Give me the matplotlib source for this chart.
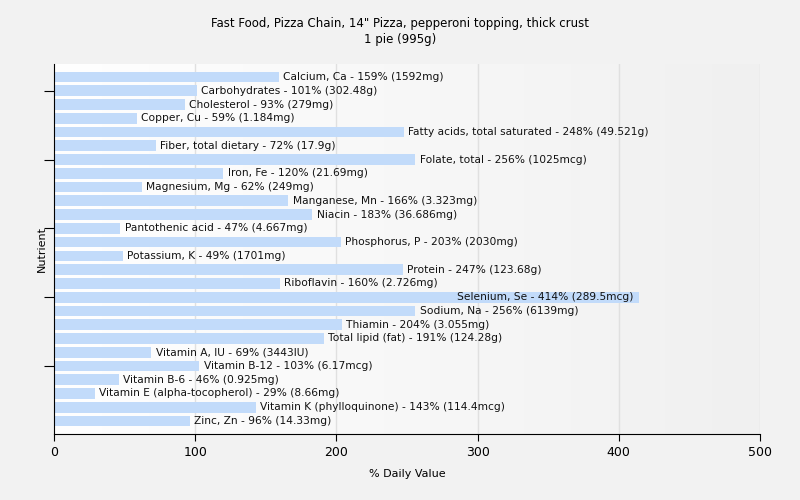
import numpy as np
import matplotlib
matplotlib.use('Agg')
from matplotlib import pyplot as plt
from matplotlib.colors import LinearSegmentedColormap

plt.rcParams['font.family'] = ['DejaVu Sans']

nutrients = ['Calcium, Ca', 'Carbohydrates', 'Cholesterol', 'Copper, Cu',
             'Fatty acids, total saturated', 'Fiber, total dietary', 'Folate, total',
             'Iron, Fe', 'Magnesium, Mg', 'Manganese, Mn', 'Niacin',
             'Pantothenic acid', 'Phosphorus, P', 'Potassium, K', 'Protein',
             'Riboflavin', 'Selenium, Se', 'Sodium, Na', 'Thiamin',
             'Total lipid (fat)', 'Vitamin A, IU', 'Vitamin B-12', 'Vitamin B-6',
             'Vitamin E (alpha-tocopherol)', 'Vitamin K (phylloquinone)', 'Zinc, Zn']
pct = [159, 101, 93, 59, 248, 72, 256, 120, 62, 166, 183, 47, 203, 49, 247,
       160, 414, 256, 204, 191, 69, 103, 46, 29, 143, 96]
amounts = ['1592mg', '302.48g', '279mg', '1.184mg', '49.521g', '17.9g', '1025mcg',
           '21.69mg', '249mg', '3.323mg', '36.686mg', '4.667mg', '2030mg', '1701mg',
           '123.68g', '2.726mg', '289.5mcg', '6139mg', '3.055mg', '124.28g',
           '3443IU', '6.17mcg', '0.925mg', '8.66mg', '114.4mcg', '14.33mg']

fig = plt.figure(figsize=(8, 5), dpi=100, facecolor='#f2f2f2')
ax = fig.add_axes([0.0675, 0.132, 0.8825, 0.74])

# background gradient, white to grey
grad = np.linspace(0, 1, 256).reshape(1, -1)
cmap = LinearSegmentedColormap.from_list('bg', ['#ffffff', '#f0f0f0'])
ax.imshow(grad, extent=[0, 500, 25.95, -0.95], aspect='auto', cmap=cmap,
          interpolation='bilinear', zorder=0)

for g in [100, 200, 300, 400, 500]:
    ax.axvline(g, color='#e0e0e0', lw=1, zorder=1)

y = np.arange(len(nutrients))
ax.barh(y, pct, height=0.78, color='#c2dbfa', zorder=2)

for i, (n, p, a) in enumerate(zip(nutrients, pct, amounts)):
    txt = f'{n} - {p}% ({a})'
    if p > 350:
        # no room on the right, put it inside the bar
        ax.annotate(txt, (p, i), xytext=(-4, 0), textcoords='offset points',
                    va='center', ha='right', fontsize=7.7, color='#111111', zorder=3)
    else:
        ax.annotate(txt, (p, i), xytext=(3, 0), textcoords='offset points',
                    va='center', ha='left', fontsize=7.7, color='#111111', zorder=3)

ax.set_xlim(0, 500)
ax.set_ylim(25.95, -0.95)
ax.set_xticks([0, 100, 200, 300, 400, 500])
ax.set_yticks([1, 6, 11, 16, 21])
ax.set_yticklabels([])
ax.tick_params(axis='x', labelsize=9, length=5)
ax.tick_params(axis='y', length=7)
for s in ['top', 'right']:
    ax.spines[s].set_visible(False)
ax.set_xlabel('% Daily Value', fontsize=8, labelpad=7)
ax.set_ylabel('Nutrient', fontsize=8)
ax.yaxis.set_label_coords(-0.01, 0.5)
fig.text(0.5, 0.953, 'Fast Food, Pizza Chain, 14" Pizza, pepperoni topping, thick crust',
         ha='center', va='center', fontsize=8.5)
fig.text(0.5, 0.92, '1 pie (995g)', ha='center', va='center', fontsize=8.5)

fig.savefig('out.png', dpi=100, facecolor=fig.get_facecolor())
